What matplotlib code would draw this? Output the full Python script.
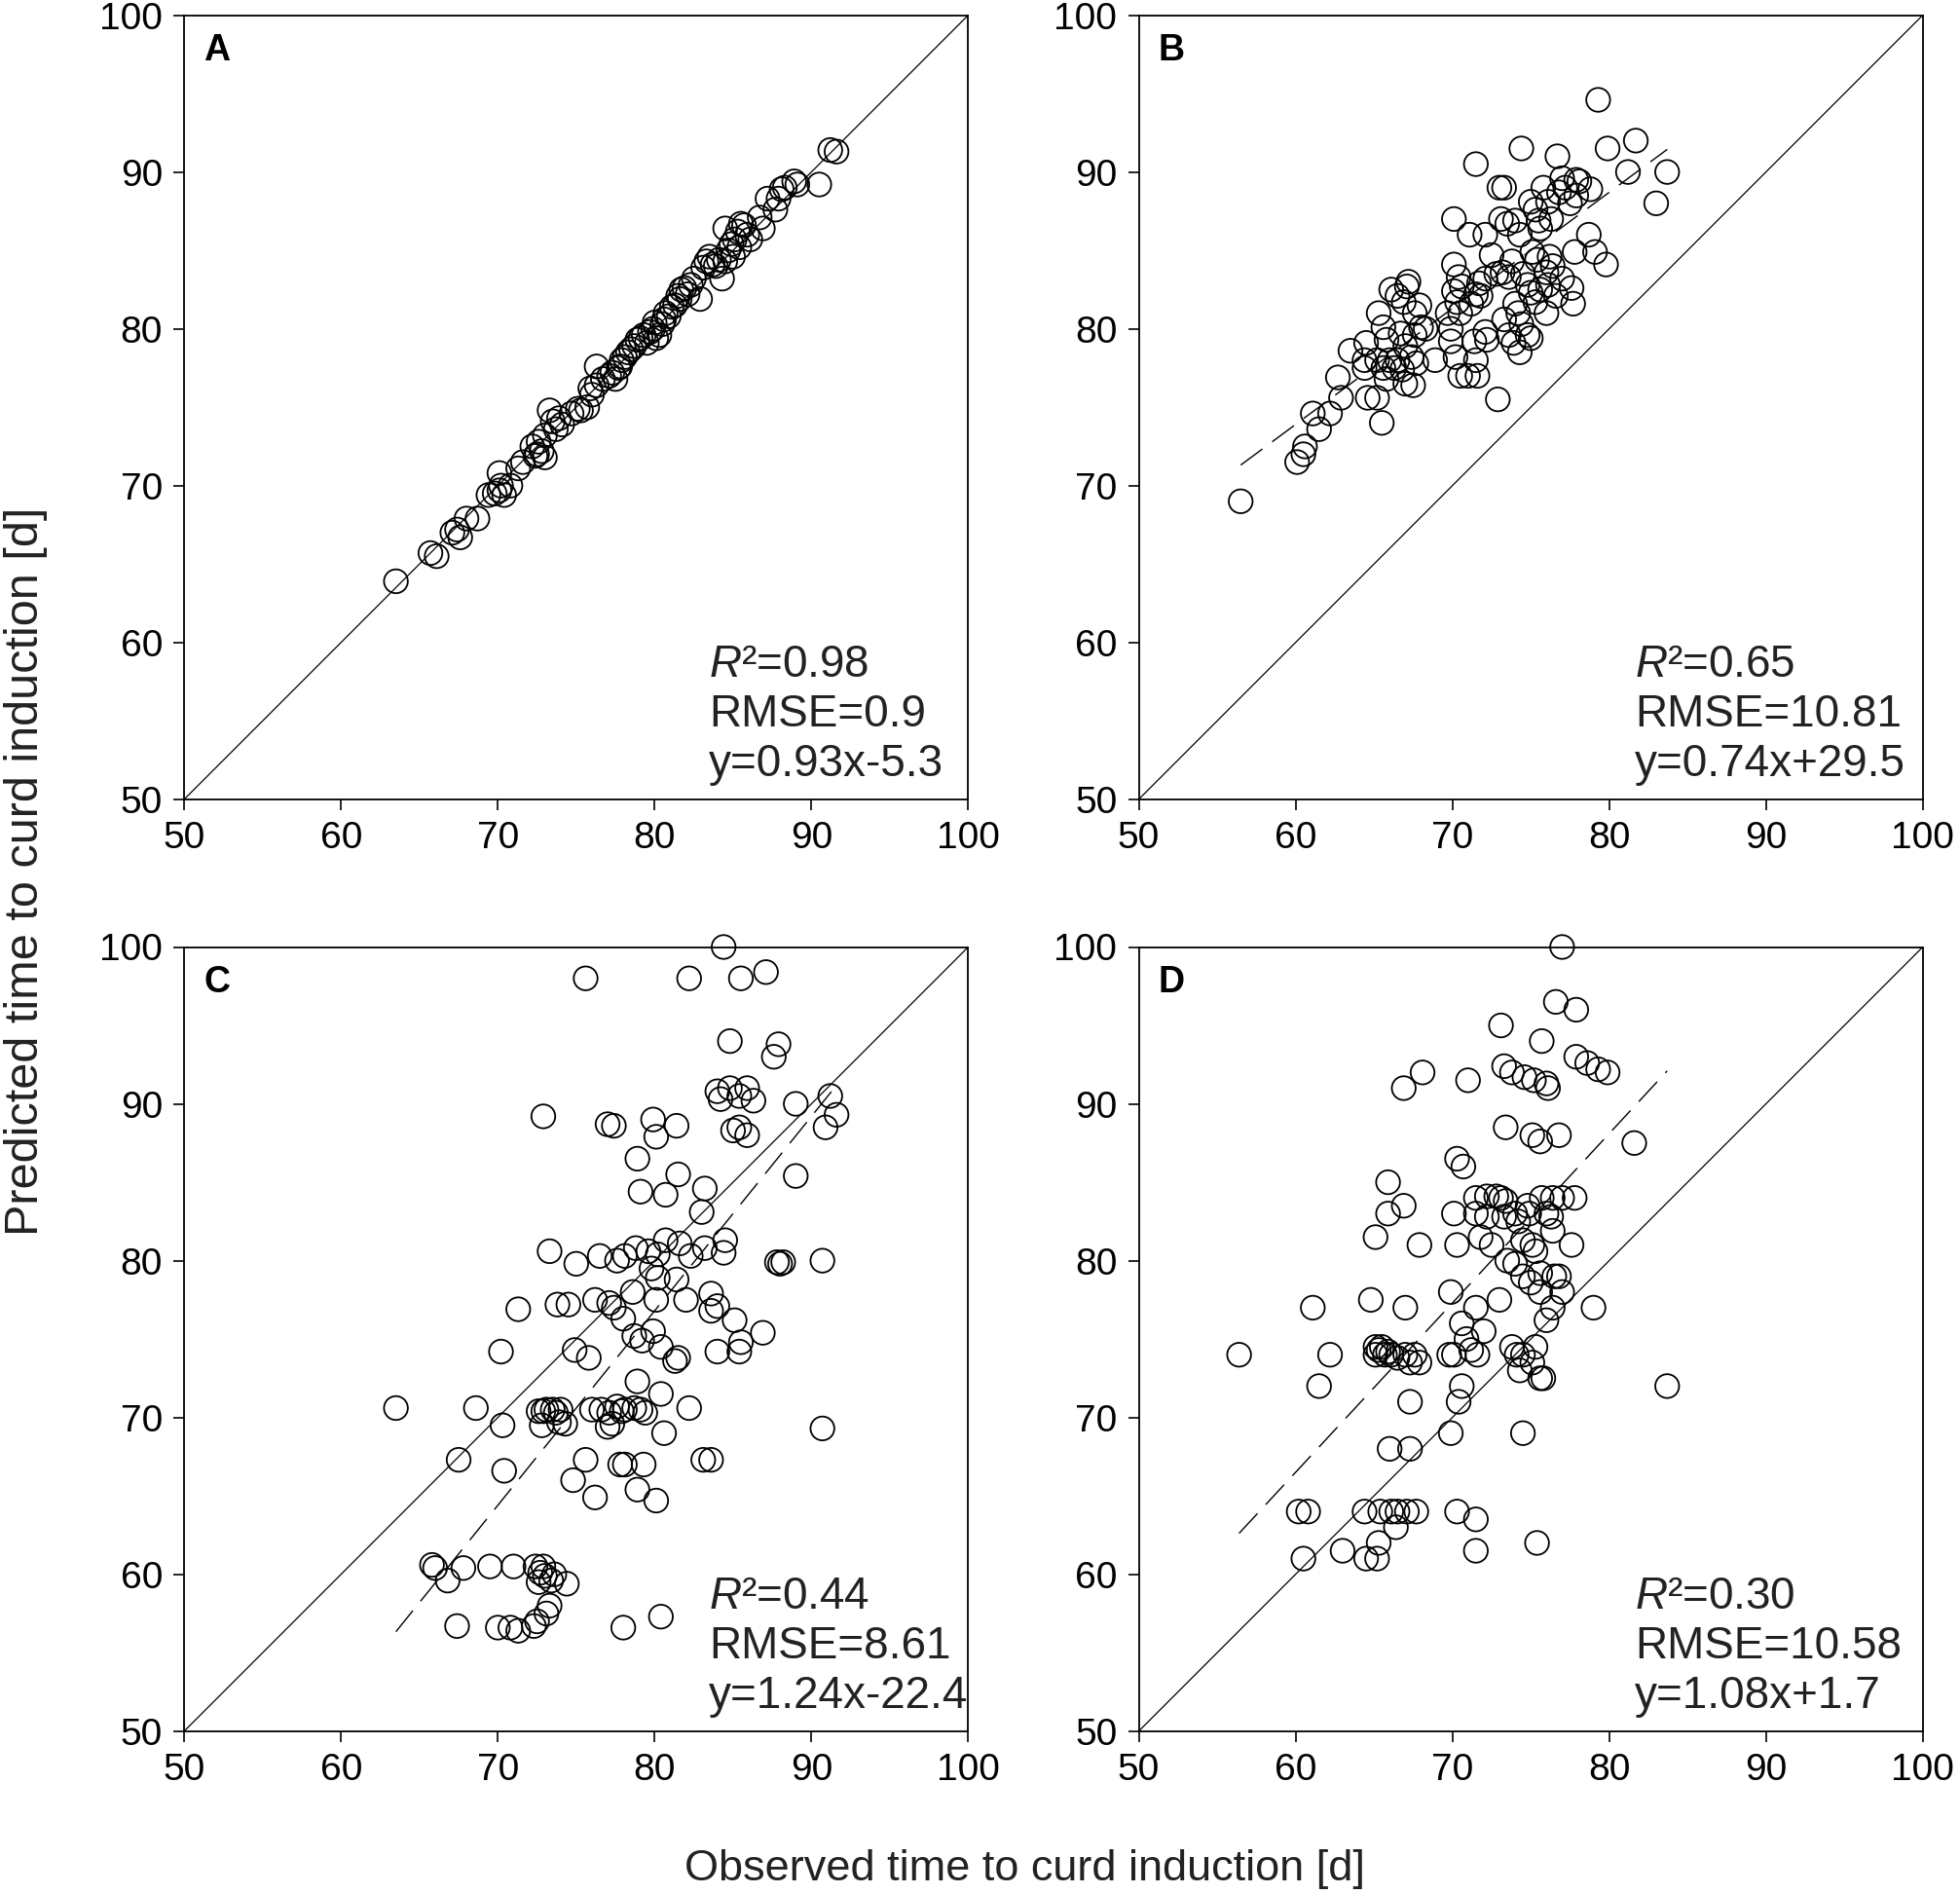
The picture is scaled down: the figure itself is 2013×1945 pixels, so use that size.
import matplotlib
matplotlib.use("Agg")
import matplotlib.pyplot as plt
import numpy as np

plt.rcParams['font.family'] = ['Liberation Sans', 'DejaVu Sans']
plt.rcParams['mathtext.fontset'] = 'custom'
plt.rcParams['mathtext.it'] = 'Liberation Sans:italic'
plt.rcParams['mathtext.rm'] = 'Liberation Sans'

# Panel A: observed vs predicted
a_obs = [63.5, 65.7, 66.1, 67.1, 67.4, 67.6, 68.0, 68.7, 69.4, 69.8, 70.1, 70.2, 70.4, 70.8, 70.1,
         71.3, 71.6, 72.2, 72.5, 72.8, 73.0, 72.6, 73.0, 73.3, 73.5, 73.7, 73.9, 74.1, 74.7, 75.1,
         75.3, 75.7, 75.9, 76.3, 76.3, 76.7, 77.1, 77.3, 77.7, 77.9, 77.5, 78.1, 78.3, 78.5, 78.7,
         78.9, 79.1, 79.3, 79.7, 79.9, 80.1, 80.3, 80.5, 80.7, 80.9, 81.1, 81.3, 80.6, 81.5, 81.7,
         81.9, 82.1, 82.3, 82.5, 82.9, 83.1, 83.3, 83.5, 83.7, 84.1, 84.3, 84.5, 84.7, 84.9, 85.1,
         84.5, 85.3, 85.5, 85.7, 85.9, 86.1, 86.7, 86.9, 87.2, 87.7, 87.9, 88.1, 88.3, 88.9, 89.1,
         90.5, 91.2, 91.6, 72.4, 76.0, 77.8, 79.5, 80.0, 81.6, 83.9, 85.0, 85.4]
a_pred = [63.9, 65.7, 65.5, 67.0, 67.2, 66.7, 67.9, 67.9, 69.4, 69.5, 69.7, 70.0, 69.4, 70.0, 70.8,
          71.1, 71.5, 72.5, 72.0, 72.2, 71.8, 72.8, 73.2, 74.8, 74.1, 73.6, 74.3, 73.9, 74.6, 74.9,
          74.8, 75.0, 76.2, 76.4, 77.6, 76.8, 77.0, 77.2, 77.5, 78.0, 76.8, 78.2, 78.5, 78.7, 78.9,
          79.3, 79.4, 79.6, 79.8, 80.0, 79.4, 79.6, 80.3, 81.0, 80.8, 81.4, 81.5, 80.6, 82.1, 82.5,
          82.6, 82.2, 82.8, 83.2, 81.9, 83.9, 84.3, 84.6, 84.1, 84.4, 83.2, 84.3, 85.0, 85.4, 85.7,
          86.4, 86.2, 86.7, 86.6, 86.0, 85.7, 87.1, 86.4, 88.3, 87.6, 88.3, 88.9, 89.0, 89.4, 89.2,
          89.2, 91.4, 91.3, 71.9, 75.8, 77.6, 79.1, 80.4, 81.9, 84.0, 84.6, 85.2]

# Panel B
b_obs = [56.5, 60.1, 60.6, 60.5, 61.1, 61.5, 62.2, 62.9, 62.7, 63.5, 64.5, 64.4, 64.4, 64.6, 65.2,
         65.5, 65.3, 65.6, 65.8, 65.2, 65.6, 66.0, 66.3, 65.8, 66.1, 66.5, 67.1, 67.2, 66.9, 67.6,
         67.9, 66.7, 67.0, 67.6, 68.0, 66.5, 66.8, 67.4, 67.7, 67.0, 67.5, 68.3, 68.9, 70.1, 70.1,
         70.4, 70.6, 70.1, 70.3, 70.5, 69.7, 69.9, 69.9, 70.2, 70.5, 71.0, 71.2, 71.5, 72.1, 71.1,
         72.1, 71.5, 71.7, 71.8, 71.4, 71.5, 71.6, 72.1, 72.2, 72.5, 72.8, 72.9, 73.0, 73.3, 73.1,
         73.5, 73.2, 73.6, 73.8, 73.3, 73.6, 73.9, 74.0, 74.3, 74.4, 74.0, 74.2, 74.4, 74.3, 74.5,
         74.8, 75.0, 74.8, 75.0, 75.0, 75.3, 75.5, 75.6, 75.1, 75.4, 75.3, 75.6, 76.0, 76.1, 75.8,
         76.1, 76.3, 76.8, 76.2, 76.4, 77.0, 76.6, 76.0, 76.7, 77.0, 77.2, 77.5, 77.9, 77.9, 78.1,
         77.6, 77.7, 77.8, 78.7, 79.1, 78.8, 79.3, 79.8, 79.9, 81.2, 81.7, 83.0, 83.7]
b_pred = [69.0, 71.5, 72.5, 72.0, 74.6, 73.6, 74.6, 75.6, 76.9, 78.6, 79.1, 78.0, 77.5, 75.6, 75.6,
          74.0, 81.0, 80.1, 79.3, 78.0, 77.5, 78.0, 77.5, 76.8, 82.5, 82.1, 82.7, 83.0, 81.7, 81.0,
          81.5, 79.7, 78.9, 79.6, 80.1, 78.0, 77.4, 78.2, 77.8, 76.5, 76.4, 80.0, 78.0, 87.0, 84.1,
          83.3, 82.7, 82.4, 81.7, 81.0, 81.0, 80.0, 79.2, 78.2, 77.0, 77.0, 81.6, 82.2, 83.2, 86.0,
          86.0, 90.5, 82.9, 82.1, 79.2, 78.0, 77.0, 79.8, 79.3, 84.7, 83.5, 75.5, 89.0, 89.0, 87.0,
          86.7, 83.6, 83.3, 84.3, 80.6, 79.6, 79.1, 86.9, 86.0, 91.5, 81.6, 81.0, 80.3, 78.5, 83.5,
          82.8, 82.3, 79.6, 79.4, 88.1, 87.6, 86.9, 86.4, 84.9, 84.4, 81.7, 82.5, 83.6, 82.8, 89.0,
          88.1, 87.0, 88.7, 84.6, 84.0, 83.2, 82.1, 81.0, 91.0, 89.6, 89.0, 88.0, 88.5, 89.5, 89.4,
          82.6, 81.6, 84.9, 86.0, 84.9, 88.9, 94.6, 84.1, 91.5, 90.0, 92.0, 88.0, 90.0]

# Panel C
c_obs = [84.4, 75.6, 82.2, 85.5, 87.1, 84.8, 87.9, 87.6, 84.0, 84.8, 85.4, 85.9, 84.2, 85.0, 85.4,
         85.9, 86.3, 89.0, 91.2, 91.6, 90.9, 72.9, 77.0, 77.4, 79.9, 80.1, 81.4, 78.9, 81.5, 79.1,
         80.7, 89.0, 83.2, 83.0, 73.3, 75.0, 76.5, 77.6, 78.1, 78.8, 79.6, 80.2, 80.7, 81.6, 82.3,
         83.2, 84.4, 84.5, 87.8, 88.2, 88.0, 90.7, 79.8, 80.2, 81.4, 78.6, 80.1, 82.0, 83.6, 84.0,
         83.6, 85.1, 86.9, 71.3, 73.8, 74.5, 76.2, 77.1, 77.4, 78.0, 78.7, 79.9, 79.2, 80.4, 81.5,
         81.3, 84.0, 85.5, 85.4, 70.2, 74.9, 75.8, 78.9, 80.4, 82.2, 63.5, 68.6, 72.6, 72.9, 73.1,
         73.5, 73.7, 74.0, 76.0, 76.6, 77.1, 77.6, 77.9, 78.1, 78.7, 79.1, 79.4, 77.3, 77.0, 74.3,
         73.9, 72.8, 70.3, 80.6, 90.7, 67.5, 70.4, 74.8, 75.6, 77.8, 78.1, 79.3, 83.1, 83.6, 76.2,
         78.9, 80.1, 65.8, 66.0, 67.8, 69.5, 71.0, 72.4, 72.9, 72.7, 73.0, 73.6, 74.4, 73.4, 72.6,
         66.8, 73.3, 73.1, 67.4, 70.0, 70.8, 71.3, 72.3, 72.5, 78.0, 80.4]
c_pred = [100.0, 98.0, 98.0, 98.0, 98.4, 94.0, 93.8, 93.0, 90.8, 91.0, 90.5, 91.0, 90.3, 88.3, 88.5,
          88.0, 90.2, 90.0, 90.5, 89.3, 88.5, 89.2, 88.7, 88.6, 89.0, 87.9, 88.6, 86.5, 85.5, 84.4,
          84.2, 85.4, 84.6, 83.1, 80.6, 79.8, 80.3, 80.0, 80.3, 80.8, 80.6, 80.4, 81.3, 81.1, 80.3,
          80.8, 80.5, 81.3, 79.9, 79.9, 79.8, 80.0, 79.5, 78.9, 78.8, 78.0, 77.5, 77.5, 77.9, 77.1,
          76.8, 76.2, 75.4, 76.9, 77.2, 77.2, 77.5, 77.3, 77.0, 76.3, 75.2, 75.5, 74.9, 74.5, 73.8,
          73.6, 74.2, 74.8, 74.2, 74.2, 74.3, 73.8, 72.3, 71.5, 70.6, 70.6, 70.6, 70.4, 70.4, 70.5,
          70.5, 70.3, 70.5, 70.5, 70.5, 70.3, 70.7, 70.4, 70.5, 70.6, 70.5, 70.3, 69.6, 69.4, 69.6,
          69.7, 69.5, 69.5, 69.0, 69.3, 67.3, 66.6, 66.0, 67.3, 67.0, 67.0, 67.0, 67.3, 67.3, 64.9,
          65.4, 64.7, 60.6, 60.4, 60.4, 60.5, 60.5, 60.5, 60.5, 60.1, 59.9, 60.0, 59.4, 59.6, 59.5,
          59.6, 58.0, 57.5, 56.7, 56.6, 56.6, 56.4, 56.7, 57.0, 56.6, 57.3]

# Panel D
d_obs = [77.0, 76.6, 77.9, 73.1, 75.7, 77.9, 78.6, 79.3, 79.9, 73.3, 73.8, 74.6, 75.2, 76.0, 76.1,
         71.0, 66.9, 68.1, 75.1, 75.6, 76.8, 73.4, 81.6, 70.3, 70.7, 65.9, 65.9, 66.9, 71.5, 72.2,
         72.8, 73.1, 73.4, 74.0, 74.8, 74.9, 75.7, 76.4, 77.0, 77.8, 76.0, 76.3, 76.4, 74.2, 73.3,
         72.2, 71.5, 70.1, 71.8, 72.5, 70.3, 67.9, 65.1, 77.6, 74.5, 75.1, 75.3, 69.9, 73.0, 74.5,
         75.0, 75.6, 76.5, 76.8, 77.0, 74.0, 73.5, 75.6, 76.4, 76.0, 79.0, 67.0, 64.8, 61.1, 70.6,
         71.5, 72.0, 70.9, 71.2, 71.6, 70.1, 69.8, 73.8, 74.1, 74.5, 75.3, 75.1, 74.3, 56.4, 62.2,
         65.1, 65.3, 65.5, 65.7, 65.9, 66.1, 66.5, 67.0, 67.3, 67.9, 67.6, 65.1, 61.5, 70.6, 75.6,
         75.8, 83.7, 67.3, 70.4, 69.9, 74.5, 66.0, 67.3, 60.2, 60.8, 64.4, 65.4, 66.1, 66.5, 67.1,
         67.7, 70.3, 71.5, 66.4, 65.3, 63.0, 64.5, 65.2, 60.5, 71.5, 75.4]
d_pred = [100.0, 96.5, 96.0, 95.0, 94.0, 93.0, 92.6, 92.2, 92.0, 92.4, 92.0, 91.7, 91.5, 91.3, 91.0,
          91.5, 91.0, 92.0, 88.0, 87.6, 88.0, 88.5, 87.5, 86.5, 86.0, 85.0, 83.0, 83.5, 84.0, 84.1,
          84.1, 84.0, 83.8, 83.0, 83.5, 83.0, 84.0, 84.0, 84.0, 84.0, 83.0, 82.8, 81.9, 82.5, 82.8,
          82.8, 83.0, 83.0, 81.5, 81.0, 81.0, 81.0, 81.5, 81.0, 81.3, 81.0, 80.6, 78.0, 77.5, 79.0,
          78.6, 79.2, 79.0, 79.0, 78.0, 79.8, 80.0, 78.0, 77.0, 76.2, 77.0, 77.0, 77.5, 77.0, 76.0,
          77.0, 75.5, 75.0, 74.3, 74.0, 74.0, 74.0, 74.5, 74.0, 74.0, 74.5, 73.5, 73.0, 74.0, 74.0,
          74.5, 74.3, 74.5, 74.0, 74.2, 74.0, 73.8, 74.0, 73.5, 73.5, 74.0, 74.0, 72.0, 72.0, 72.5,
          72.5, 72.0, 71.0, 71.0, 69.0, 69.0, 68.0, 68.0, 64.0, 64.0, 64.0, 64.0, 64.0, 64.0, 64.0,
          64.0, 64.0, 63.5, 63.0, 62.0, 61.5, 61.0, 61.0, 61.0, 61.5, 62.0]

labels = ['A', 'B', 'C', 'D']
r2 = ['0.98', '0.65', '0.44', '0.30']
rmse = ['0.9', '10.81', '8.61', '10.58']
slopes = [0.93, 0.74, 1.24, 1.08]
intercepts = [-5.3, 29.5, -22.4, 1.7]
show_fit = [False, True, True, True]
obs_all = [a_obs, b_obs, c_obs, d_obs]
pred_all = [a_pred, b_pred, c_pred, d_pred]

fig = plt.figure(figsize=(20.13, 19.45), dpi=100)
boxes = [[0.094, 0.578, 0.400, 0.414], [0.581, 0.578, 0.400, 0.414],
         [0.094, 0.086, 0.400, 0.414], [0.581, 0.086, 0.400, 0.414]]
text_x = [0.669, 0.633, 0.669, 0.633]

for i in range(4):
    ax = fig.add_axes(boxes[i])
    x = np.array(obs_all[i])
    y = np.array(pred_all[i])
    ax.plot([50, 100], [50, 100], color='black', lw=0.9)
    if show_fit[i]:
        xs = np.array([x.min(), x.max()])
        ax.plot(xs, slopes[i] * xs + intercepts[i], color='black', lw=1.0,
                dashes=(20, 9))
    ax.scatter(x, y, s=310, facecolors='none', edgecolors='black', linewidths=1.3,
               clip_on=False, zorder=3)
    ax.set_xlim(50, 100)
    ax.set_ylim(50, 100)
    ax.set_xticks(range(50, 101, 10))
    ax.set_yticks(range(50, 101, 10))
    ax.tick_params(direction='out', length=8, width=1.2, labelsize=28, pad=8)
    for sp in ax.spines.values():
        sp.set_linewidth(1.3)
    ax.text(0.025, 0.955, labels[i], transform=ax.transAxes, fontsize=27,
            fontweight='bold', va='center', ha='left')
    ax.text(text_x[i], 0.156, r'$\mathit{R}$²=' + r2[i], transform=ax.transAxes,
            fontsize=33, va='baseline', ha='left', color='#222222')
    ax.text(text_x[i], 0.093, 'RMSE=' + rmse[i], transform=ax.transAxes,
            fontsize=33, va='baseline', ha='left', color='#222222')
    sign = '+' if intercepts[i] >= 0 else '-'
    ax.text(text_x[i], 0.030, 'y=%.2fx%s%.1f' % (slopes[i], sign, abs(intercepts[i])),
            transform=ax.transAxes, fontsize=33, va='baseline', ha='left', color='#222222')

fig.text(0.523, 0.013, 'Observed time to curd induction [d]', fontsize=32.5,
         ha='center', va='center', color='#222222')
fig.text(0.002, 0.54, 'Predicted time to curd induction [d]', fontsize=35,
         ha='left', va='center', rotation=90, color='#222222')

fig.savefig('out.png', dpi=100)
